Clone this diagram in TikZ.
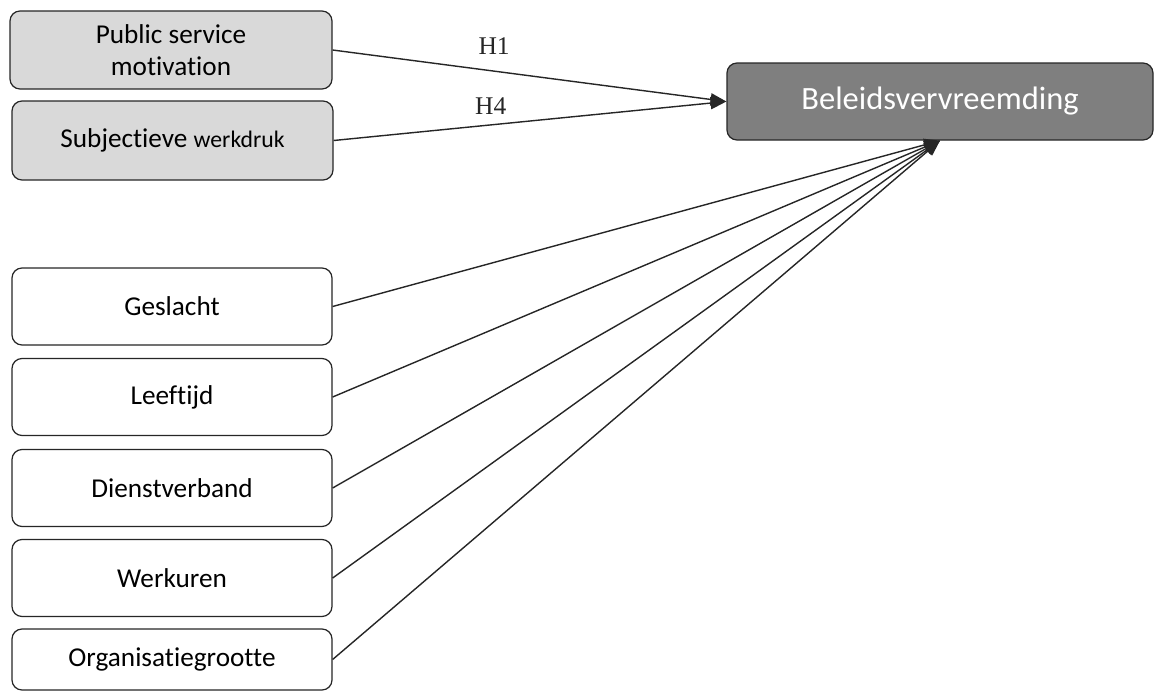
\documentclass[tikz,border=0pt]{standalone}
\usepackage{fontspec}
\setmainfont[Ligatures=NoCommon]{Carlito}
\newfontfamily\hfont{Liberation Serif}
\usetikzlibrary{arrows.meta}
\definecolor{IndBox}{RGB}{217,217,217}
\definecolor{DepBox}{RGB}{127,127,127}

\begin{document}
\begin{tikzpicture}[x=0.02cm,y=-0.02cm,>={Triangle[length=9pt,width=7pt]},
  varbox/.style={draw=black!85,line width=0.7pt,rounded corners=0.2cm,align=center,
    inner sep=0pt,font=\fontsize{15.5}{18}\selectfont},
  indbox/.style={varbox,fill=IndBox},
  ctrlbox/.style={varbox,fill=white,minimum width=320*0.02cm,minimum height=77*0.02cm},
  link/.style={->,line width=0.8pt,black!85},
  hyp/.style={font=\hfont\fontsize{14.5}{17}\selectfont}]
\useasboundingbox (0,0) rectangle (1155,691);

\node[indbox,minimum width=322*0.02cm,minimum height=78*0.02cm] (psm) at (171,50)
  {Public service\\motivation};
\node[indbox,minimum width=321*0.02cm,minimum height=79*0.02cm] (wd) at (172.5,140.5)
  {Subjectieve {\fontsize{13.5}{16}\selectfont werkdruk}};

\node[varbox,fill=DepBox,text=white,minimum width=426*0.02cm,minimum height=77*0.02cm,
  font=\fontsize{18.5}{22}\selectfont] (bv) at (940,101.5) {Beleidsvervreemding};

\node[ctrlbox] (gesl) at (172,306.5) {Geslacht};
\node[ctrlbox] (leef) at (172,397) {Leeftijd};
\node[ctrlbox] (dienst) at (172,488) {Dienstverband};
\node[ctrlbox] (uren) at (172,578) {Werkuren};
\node[ctrlbox,minimum height=61*0.02cm] (org) at (172,659.5) {Organisatiegrootte};

\draw[link] (psm.east) -- (bv.west) node[hyp,pos=0.41,above=6pt] {H1};
\draw[link] (wd.east) -- (bv.west) node[hyp,pos=0.40,above=2pt] {H4};

\foreach \c in {gesl,leef,dienst,uren,org}
  \draw[link] (\c.east) -- (bv.south);
\end{tikzpicture}
\end{document}
